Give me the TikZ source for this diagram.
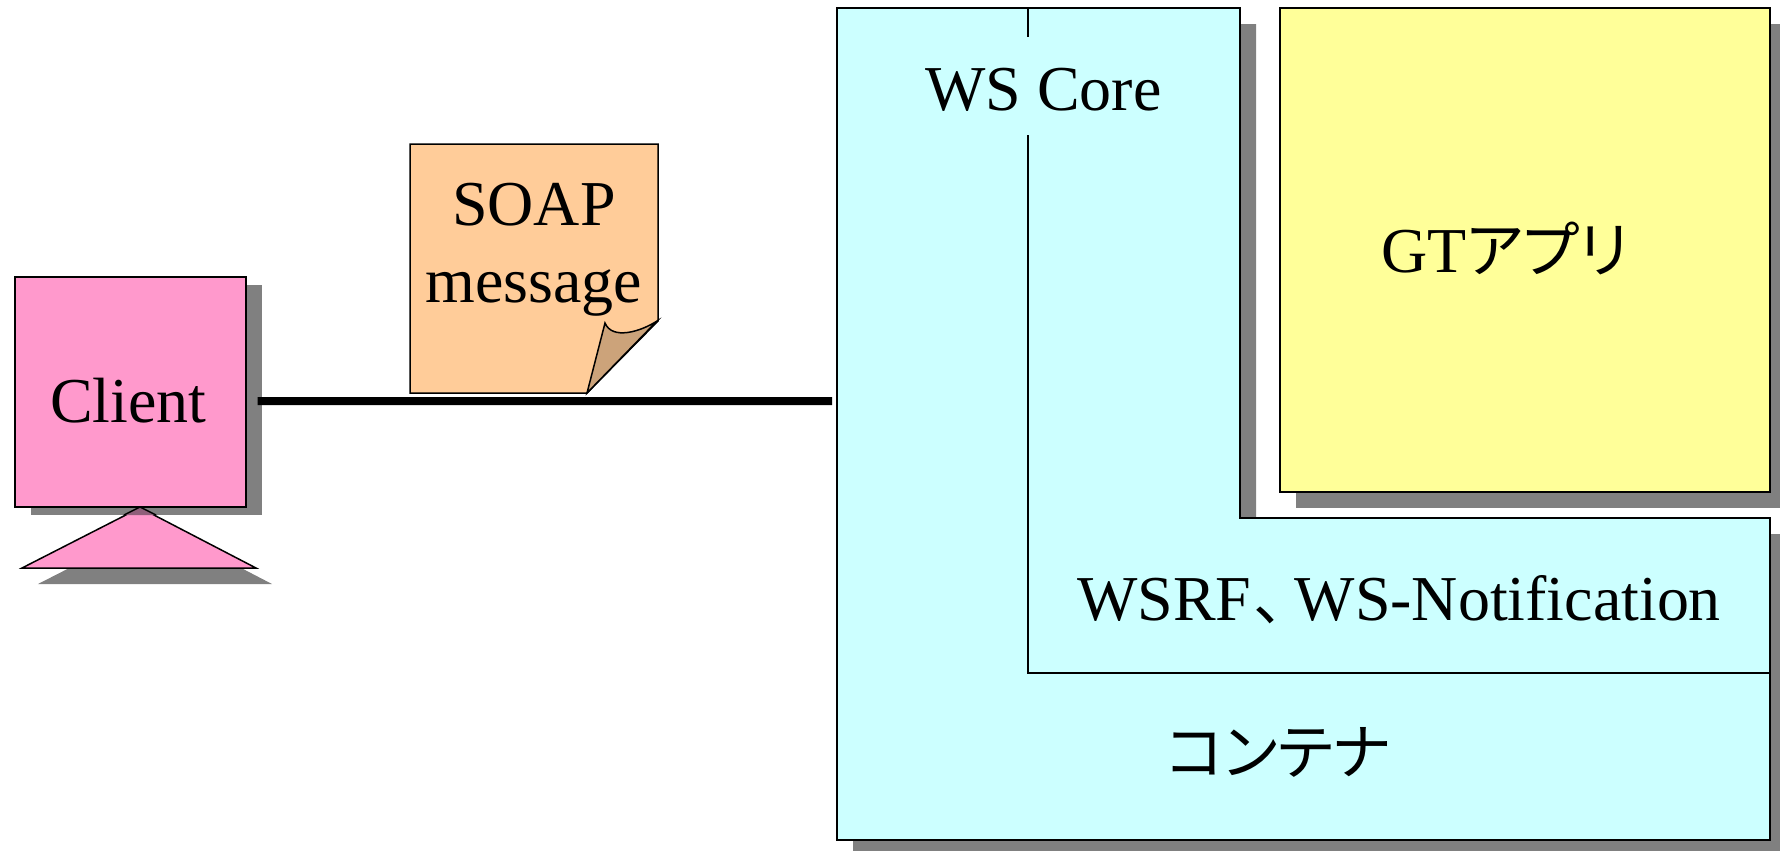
\documentclass[tikz,border=0pt]{standalone}
\usepackage{fontspec}
\setmainfont{Liberation Serif}
\newfontfamily\jpfont[RawFeature=+palt, Scale=0.95]{Noto Sans CJK JP}
\usetikzlibrary{shadows}
\definecolor{clientpink}{HTML}{FF99CC}
\definecolor{soaporange}{HTML}{FFCC99}
\definecolor{foldbrown}{HTML}{CCA37A}
\definecolor{containercyan}{HTML}{CCFFFF}
\definecolor{appyellow}{HTML}{FFFF99}
\definecolor{shadowgray}{HTML}{808080}
\definecolor{apexdark}{HTML}{8F5F7A}
\tikzstyle{outline} = [draw, line width=.03cm]
\tikzstyle{shadowed} = [drop shadow={shadow xshift=.32cm, shadow yshift=-.32cm, opacity=1, fill=shadowgray}]
\tikzstyle{clientshadow} = [drop shadow={shadow xshift=.32cm, shadow yshift=-.16cm, opacity=1, fill=shadowgray}]
\tikzstyle{labeltext} = [font=\fontsize{36.4}{44}\selectfont, inner sep=0pt]
\tikzstyle{wire} = [line width=.16cm, shorten <=.22cm]

\begin{document}
\begin{tikzpicture}[x=.02cm, y=-.02cm]
	\path[use as bounding box, clip] (0,0) rectangle (1780,850);
	% Place nodes
	\node (client) [rectangle, outline, fill=clientpink, clientshadow, minimum width=4.62cm, minimum height=4.6cm] at (130.5,392) {};
	\node (clientlabel) [labeltext, anchor=base] at (128.5,422) {Client};
	\draw[outline, fill=clientpink, shadowed] (client.south -| 140,0) -- (256,568) -- (22,568) -- cycle;
	\fill[apexdark] (140,507) -- (156,515) -- (124,515) -- cycle;
	\draw[outline] (124,515) -- (140,507) -- (156,515);

	% Message note
	\draw[outline, fill=soaporange] (410,144) -- (658,144) -- (658,321) -- (587,393) -- (410,393) -- cycle;
	\draw[outline, fill=foldbrown] (587,393) -- (605,323) .. controls (612,340) and (640,332) .. (657,321) -- cycle;
	\node (soap) [labeltext, align=center] at (534,250) {SOAP\\message};

	% Container
	\draw[outline, fill=containercyan, shadowed] (837,8) -- (1240,8) -- (1240,518) -- (1770,518) -- (1770,840) -- (837,840) -- cycle;
	\draw[outline] (1028,8) -- (1028,37);
	\draw[outline] (1028,135) -- (1028,673) -- (1770,673);
	\node (wscore) [labeltext, anchor=base] at (1043.5,110) {WS Core};
	\node (wsrf) [labeltext, anchor=base] at (1399,620) {WSRF\kern.06cm{\jpfont 、}\kern.2cm WS-Notification};
	\node (container) [labeltext, anchor=base] at (1279,774) {\jpfont コンテナ};
	\coordinate (containerwest) at (832,401);

	% Application
	\node (app) [rectangle, outline, fill=appyellow, shadowed, minimum width=9.8cm, minimum height=9.68cm] at (1525,250) {};
	\node (applabel) [labeltext, anchor=base] at (1505,272) {GT{\jpfont アプリ}};

	\draw[wire] ([yshift=-.18cm]client.east) -- (containerwest);
\end{tikzpicture}
\end{document}
